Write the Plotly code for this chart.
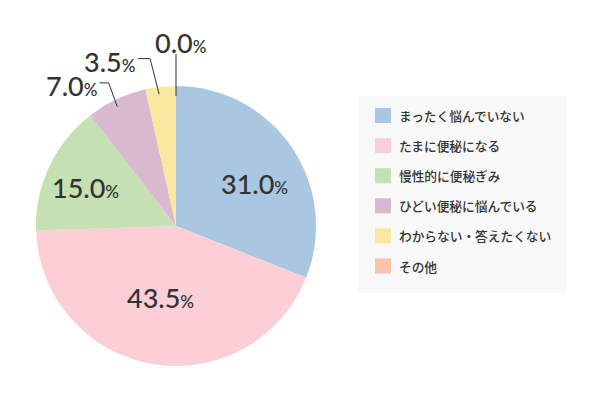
import math

import plotly.graph_objects as go

# Data
LABELS = [
    "まったく悩んでいない",
    "たまに便秘になる",
    "慢性的に便秘ぎみ",
    "ひどい便秘に悩んでいる",
    "わからない・答えたくない",
    "その他",
]
VALUES = [31.0, 43.5, 15.0, 7.0, 3.5, 0.0]
COLORS = ["#aac7e1", "#fccfd7", "#c5e0b2", "#d9b9cf", "#f9e8a0", "#f7c6aa"]

# Layout constants (pixels on the 600x400 screenshot)
W, H = 600, 400
OFF = 8  # page body margin
CX, CY, R = 176, 226, 140
TEXT_COLOR = "#333333"
NUM_FONT = "Lato"
JP_FONT = "Noto Sans CJK JP"


def px(x):
    return (x - OFF) / W


def py(y):
    return 1 - (y - OFF) / H


def polar(angle_deg, r):
    """Pixel position for a clockwise angle from 12 o'clock."""
    a = math.radians(angle_deg)
    return CX + r * math.sin(a), CY - r * math.cos(a)


def pct_text(v):
    return f"{v:.1f}<span style='font-size:17px'>%</span>"


# mid angles of every slice
total = sum(VALUES)
mid_angles = []
acc = 0
for v in VALUES:
    mid_angles.append((acc + v / 2) / total * 360)
    acc += v

fig = go.Figure()

fig.add_trace(
    go.Pie(
        labels=LABELS,
        values=VALUES,
        sort=False,
        direction="clockwise",
        rotation=0,
        marker=dict(colors=COLORS, line=dict(width=0)),
        textinfo="none",
        hoverinfo="label+percent",
        showlegend=False,
        domain=dict(x=[px(CX - R), px(CX + R)], y=[py(CY + R), py(CY - R)]),
    )
)

annotations = []
shapes = []
num_font = dict(family=NUM_FONT, size=27, color=TEXT_COLOR, weight=500)

# labels inside the big slices: (radius fraction, angle nudge)
inside = {0: (0.64, 6), 1: (0.52, 2), 2: (0.70, -2)}
for i, (rf, nudge) in inside.items():
    x, y = polar(mid_angles[i] + nudge, rf * R)
    annotations.append(dict(
        x=px(x), y=py(y), xref="paper", yref="paper",
        text=pct_text(VALUES[i]), showarrow=False,
        xanchor="center", yanchor="middle", font=num_font,
    ))

# labels outside with leader lines: (elbow radius fraction, angle shift, horizontal length)
outside = {3: (1.13, 0, 9), 4: (1.21, -2.5, 12)}
for i, (ef, shift, hl) in outside.items():
    x0, y0 = polar(mid_angles[i] - 1, 0.95 * R)
    x1, y1 = polar(mid_angles[i] + shift, ef * R)
    x2 = x1 - hl
    shapes.append(dict(
        type="path", xref="paper", yref="paper", layer="above",
        path=f"M{px(x0)},{py(y0)} L{px(x1)},{py(y1)} L{px(x2)},{py(y1)}",
        line=dict(color=TEXT_COLOR, width=1),
    ))
    annotations.append(dict(
        x=px(x2 - 1), y=py(y1 + 3), xref="paper", yref="paper",
        text=pct_text(VALUES[i]), showarrow=False,
        xanchor="right", yanchor="middle", font=num_font,
    ))

# zero slice at 12 o'clock: vertical leader
x0, y0 = polar(mid_angles[5], 0.93 * R)
x1, y1 = polar(mid_angles[5], 1.23 * R)
shapes.append(dict(
    type="line", xref="paper", yref="paper", layer="above",
    x0=px(x0), y0=py(y0), x1=px(x1), y1=py(y1),
    line=dict(color=TEXT_COLOR, width=1),
))
annotations.append(dict(
    x=px(x1 + 5), y=py(y1 - 11), xref="paper", yref="paper",
    text=pct_text(VALUES[5]), showarrow=False,
    xanchor="center", yanchor="middle", font=num_font,
))

# custom legend
LEG_X0, LEG_Y0, LEG_X1, LEG_Y1 = 358, 96, 567, 293
shapes.append(dict(
    type="rect", xref="paper", yref="paper", layer="below",
    x0=px(LEG_X0), y0=py(LEG_Y0), x1=px(LEG_X1), y1=py(LEG_Y1),
    fillcolor="#f8f8f8", line=dict(width=0),
))
for k, (lab, col) in enumerate(zip(LABELS, COLORS)):
    yc = 115.5 + k * 30.1
    shapes.append(dict(
        type="rect", xref="paper", yref="paper", layer="above",
        x0=px(375), y0=py(yc - 7.5), x1=px(391), y1=py(yc + 7.5),
        fillcolor=col, line=dict(width=0),
    ))
    annotations.append(dict(
        x=px(397), y=py(yc), xref="paper", yref="paper",
        text=lab, showarrow=False, xanchor="left", yanchor="middle",
        font=dict(family=JP_FONT, size=12.7, color=TEXT_COLOR, weight=500),
    ))

fig.update_layout(
    width=W,
    height=H,
    margin=dict(l=0, r=0, t=0, b=0),
    paper_bgcolor="white",
    plot_bgcolor="white",
    annotations=annotations,
    shapes=shapes,
)

fig.write_html("out.html")
